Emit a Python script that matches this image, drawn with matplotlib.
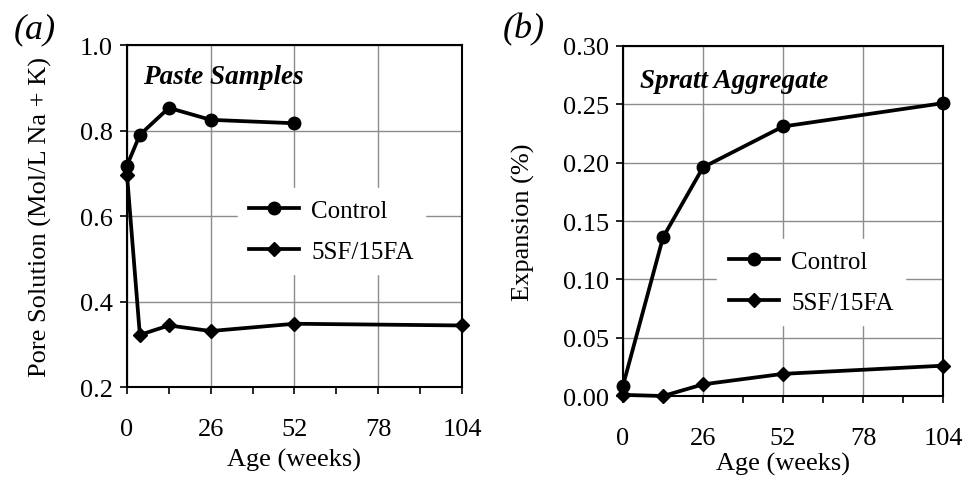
import numpy as np
import matplotlib
matplotlib.use('Agg')
import matplotlib.pyplot as plt
from matplotlib.ticker import MultipleLocator

plt.rcParams['font.family'] = ['Liberation Serif', 'DejaVu Serif']
plt.rcParams['font.size'] = 19

# (a) pore solution
a_ctrl_x = [0, 4, 13, 26, 52]
a_ctrl_y = [0.718, 0.79, 0.853, 0.825, 0.817]
a_sf_x = [0, 4, 13, 26, 52, 104]
a_sf_y = [0.697, 0.322, 0.344, 0.331, 0.348, 0.344]

# (b) expansion
b_ctrl_x = [0, 13, 26, 52, 104]
b_ctrl_y = [0.009, 0.136, 0.196, 0.231, 0.251]
b_sf_x = [0, 13, 26, 52, 104]
b_sf_y = [0.001, 0.0, 0.010, 0.019, 0.026]

xticks = [0, 26, 52, 78, 104]

fig = plt.figure(figsize=(9.67, 4.81), dpi=100)
ax1 = fig.add_axes([0.1313, 0.1933, 0.3465, 0.711])
ax2 = fig.add_axes([0.6443, 0.1746, 0.3309, 0.7277])


def style(ax):
    ax.set_xlim(0, 104)
    ax.set_xticks(xticks)
    ax.xaxis.set_minor_locator(MultipleLocator(13))
    ax.tick_params(axis='x', which='both', direction='out', length=5, width=1.2, pad=17)
    ax.tick_params(axis='y', direction='out', length=5, width=1.2, pad=5)
    for s in ax.spines.values():
        s.set_linewidth(1.5)
    ax.grid(True, which='major', color='#8c8c8c', linewidth=1.0)
    ax.set_axisbelow(True)
    ax.set_xlabel('Age (weeks)', labelpad=0)


# panel a
ax1.plot(a_ctrl_x, a_ctrl_y, color='black', lw=2.7, marker='o', ms=9, clip_on=False, label='Control', zorder=3)
ax1.plot(a_sf_x, a_sf_y, color='black', lw=2.7, marker='D', ms=7, clip_on=False, label='5SF/15FA', zorder=3)
ax1.set_ylim(0.2, 1.0)
ax1.set_yticks([0.2, 0.4, 0.6, 0.8, 1.0])
ax1.set_yticklabels(['0.2', '0.4', '0.6', '0.8', '1.0'])
style(ax1)
ax1.set_ylabel('Pore Solution (Mol/L Na + K)')
ax1.yaxis.set_label_coords(-0.224, 0.5)
ax1.xaxis.set_label_coords(0.5, -0.178)
ax1.text(0.048, 0.909, 'Paste Samples', transform=ax1.transAxes, fontsize=19.5,
         fontweight='bold', fontstyle='italic', va='center', ha='left')
ax1.legend(loc='center left', bbox_to_anchor=(0.33, 0.456), frameon=True, facecolor='white',
           edgecolor='white', framealpha=1, fancybox=False, borderaxespad=0, borderpad=0.45,
           handlelength=2.0, handletextpad=0.5, labelspacing=0.75, fontsize=18)

# panel b
ax2.plot(b_ctrl_x, b_ctrl_y, color='black', lw=2.7, marker='o', ms=9, clip_on=False, label='Control', zorder=3)
ax2.plot(b_sf_x, b_sf_y, color='black', lw=2.7, marker='D', ms=7, clip_on=False, label='5SF/15FA', zorder=3)
ax2.set_ylim(0, 0.30)
ax2.set_yticks(np.arange(0, 0.301, 0.05))
ax2.set_yticklabels(['0.00', '0.05', '0.10', '0.15', '0.20', '0.25', '0.30'])
style(ax2)
ax2.set_ylabel('Expansion (%)')
ax2.yaxis.set_label_coords(-0.275, 0.5)
ax2.xaxis.set_label_coords(0.5, -0.16)
ax2.text(0.053, 0.9, 'Spratt Aggregate', transform=ax2.transAxes, fontsize=19.5,
         fontweight='bold', fontstyle='italic', va='center', ha='left')
ax2.legend(loc='center left', bbox_to_anchor=(0.295, 0.326), frameon=True, facecolor='white',
           edgecolor='white', framealpha=1, fancybox=False, borderaxespad=0, borderpad=0.45,
           handlelength=2.0, handletextpad=0.5, labelspacing=0.75, fontsize=18)

fig.text(0.036, 0.938, '(a)', fontsize=26, fontstyle='italic', ha='center', va='center')
fig.text(0.542, 0.938, '(b)', fontsize=26, fontstyle='italic', ha='center', va='center')

fig.savefig('out.png', dpi=100)
